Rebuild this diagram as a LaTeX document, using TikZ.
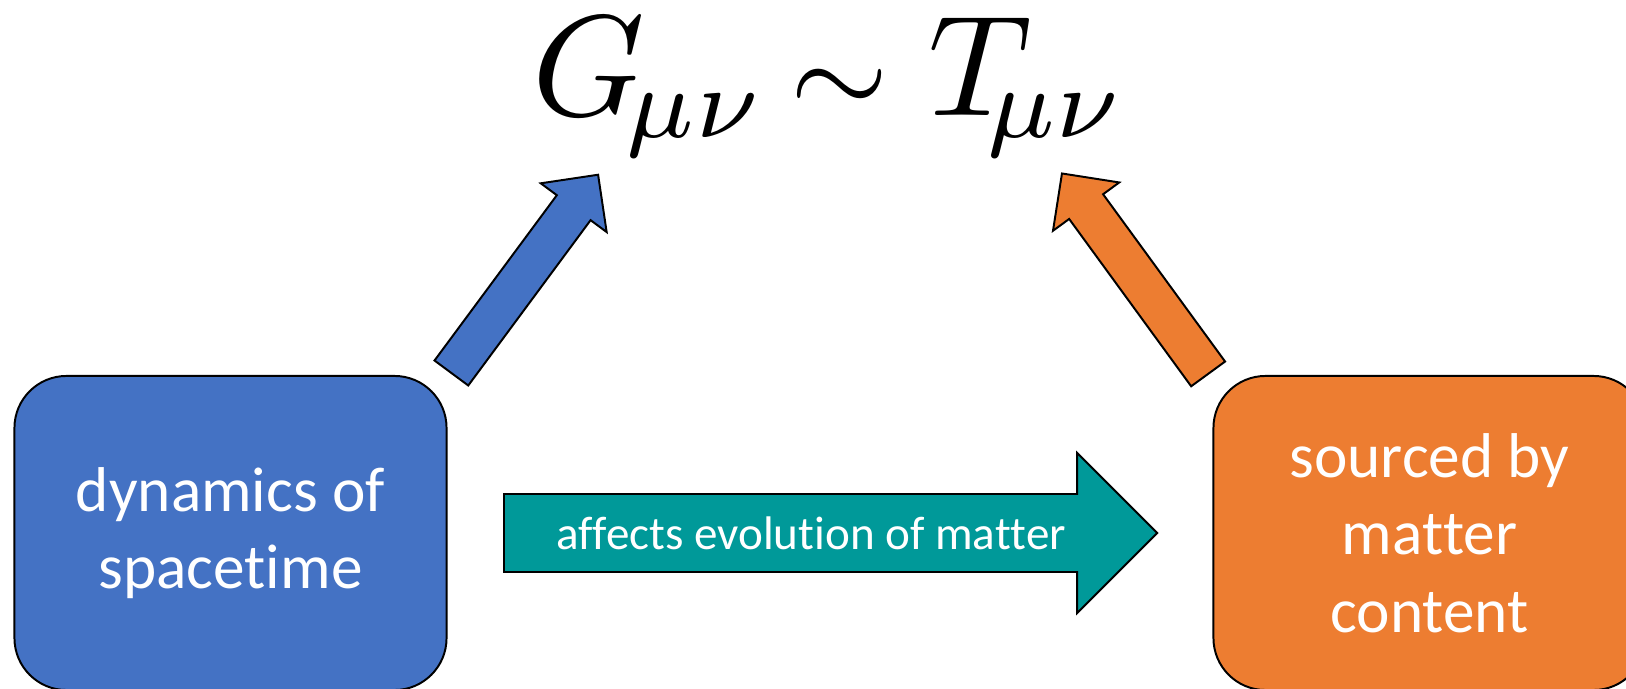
\documentclass[tikz,border=0pt]{standalone}
\usepackage{fontspec}
\setmainfont{Carlito}[Ligatures=NoCommon]
\usetikzlibrary{shapes.arrows}
\definecolor{stblue}{HTML}{4472C4}
\definecolor{mtorange}{HTML}{ED7D31}
\definecolor{evteal}{HTML}{009999}
\newcommand\nolig{\kern0pt}
\tikzset{box/.style={draw,rounded corners=1.3cm,line width=1.4pt,minimum width=10.8cm,minimum height=7.85cm,align=center,text=white,font=\fontsize{45}{55}\selectfont},blk/.style={single arrow,draw,line width=1.4pt,single arrow head extend=0.5cm,inner sep=0pt,text height=0.5cm,text depth=0.5cm,anchor=tail}}

\begin{document}
\begin{tikzpicture}[x=0.025cm,y=-0.025cm]
\clip(0,0)rectangle(1626,689);
\node[box,fill=stblue](dyn)at(230.5,533){dynamics of\\spacet\nolig ime};
\node[box,fill=mtorange](src)at(1429.5,533){sourced by\\mat\nolig ter\\content};
\node[anchor=base,scale=10.2,inner sep=0pt](eq)at(829.7,116){$G_{\!\mu\nu}\mskip-2mu\mathrel{\scalebox{0.88}{$\sim$}}T_{\mskip-4mu\mu\nu}$};
\node[blk,fill=stblue,minimum height=6.165cm,rotate=53.5](up)at(450.8,373.8){};
\node[blk,fill=mtorange,minimum height=6.2cm,rotate=126.1](back)at(1208.7,374.7){};
\node[blk,fill=evteal,minimum height=16.325cm,single arrow head extend=1.025cm,text height=1.35cm,text depth=0.55cm,text=white,font=\fontsize{33.5}{40}\selectfont](evo)at(503,533){af\nolig fects evolut\nolig ion of mat\nolig ter};
\end{tikzpicture}
\end{document}
